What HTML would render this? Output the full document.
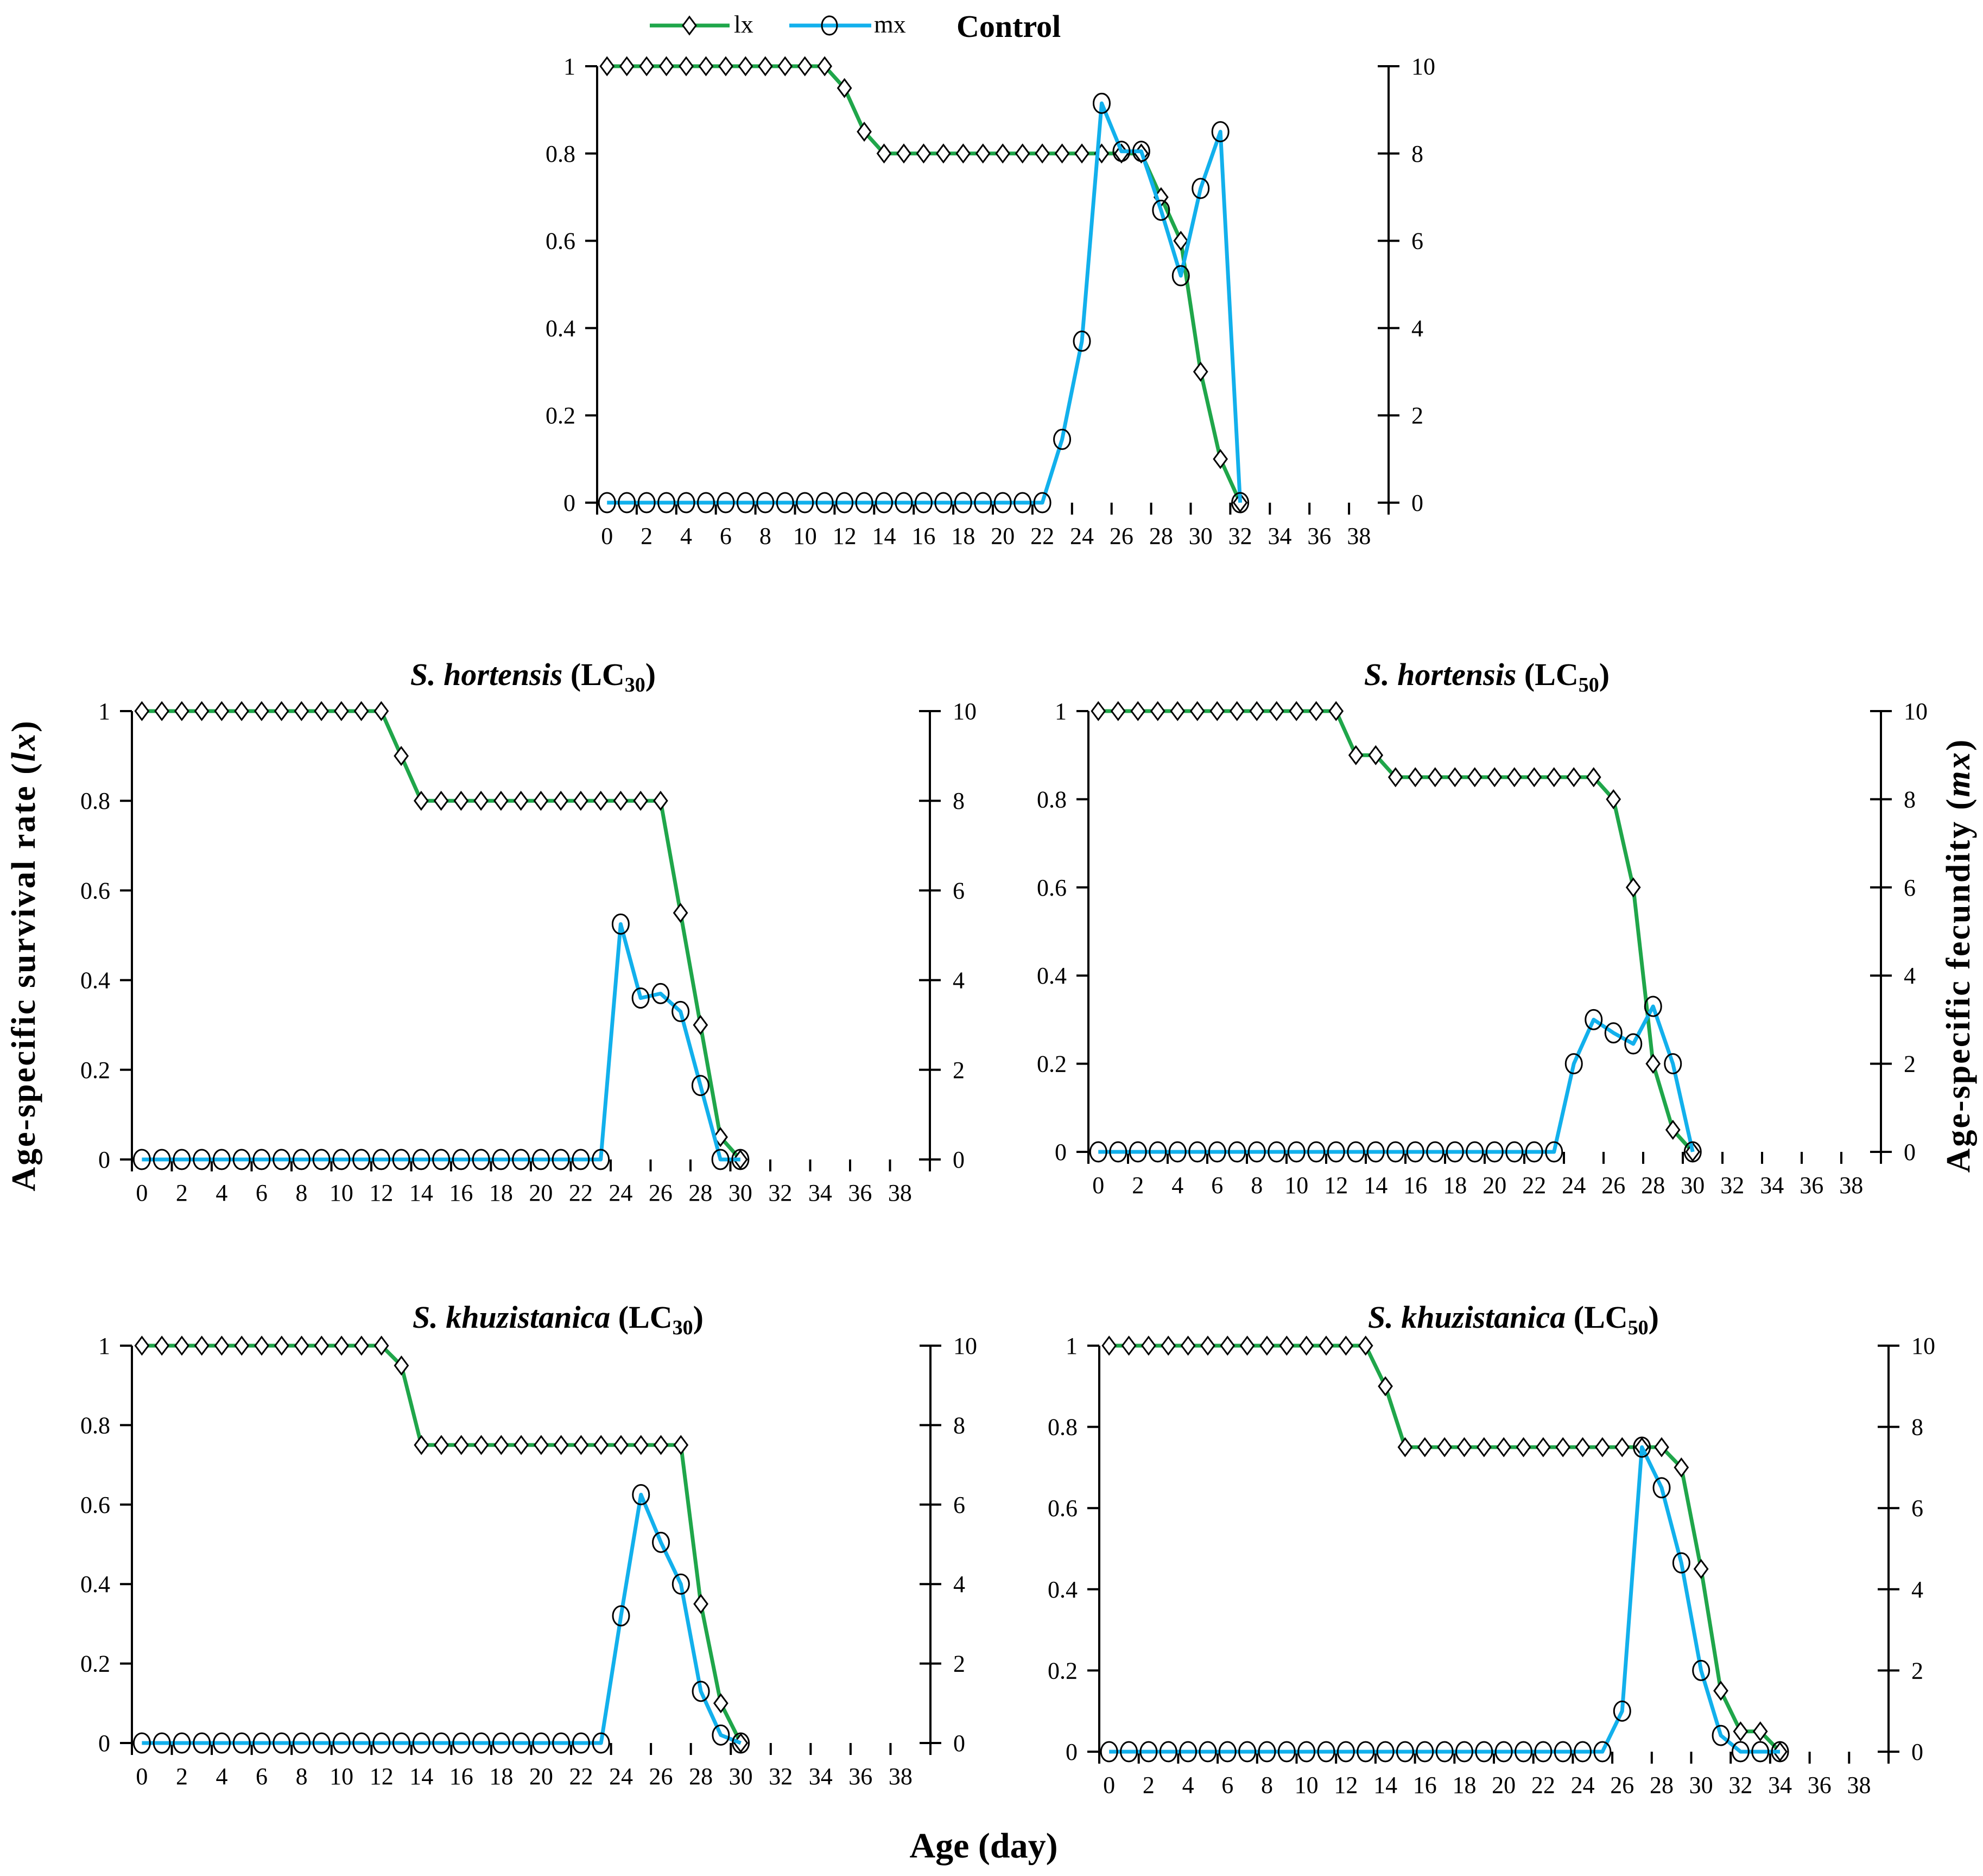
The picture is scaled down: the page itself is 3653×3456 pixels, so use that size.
<!DOCTYPE html>
<html><head><meta charset="utf-8"><style>
html,body{margin:0;padding:0;background:#fff;}
svg{display:block;}
text{font-family:"Liberation Serif",serif;fill:#000;}
</style></head><body>
<svg id="fig" width="3653" height="3456" viewBox="0 0 3653 3456" xmlns="http://www.w3.org/2000/svg">
<g>
<line x1="1197" y1="47" x2="1344" y2="47" stroke="#1fa64a" stroke-width="7"/>
<path d="M1270 31 L1282 47 L1270 63 L1258 47 Z" fill="#fff" stroke="#000" stroke-width="3"/>
<text x="1352" y="60" font-size="46">lx</text>
<line x1="1454" y1="47" x2="1605" y2="47" stroke="#12b0ec" stroke-width="7"/>
<ellipse cx="1528" cy="47" rx="14" ry="17" fill="none" stroke="#000" stroke-width="3"/>
<text x="1610" y="60" font-size="46">mx</text>
</g>
<text x="1762" y="68" font-size="58" font-weight="bold">Control</text>
<text transform="translate(64,1760) rotate(-90)" text-anchor="middle" font-size="62" font-weight="bold" letter-spacing="3">Age-specific  survival  rate  (<tspan font-style="italic">lx</tspan>)</text>
<text transform="translate(3628,1760) rotate(-90)" text-anchor="middle" font-size="62" font-weight="bold" letter-spacing="3">Age-specific  fecundity  (<tspan font-style="italic">mx</tspan>)</text>
<text x="1812" y="3422" text-anchor="middle" font-size="66" font-weight="bold">Age (day)</text>
</svg>
<script>
// Control
const ctrlLx = [1,1,1,1,1,1,1,1,1,1,1,1,0.95,0.85,0.8,0.8,0.8,0.8,0.8,0.8,0.8,0.8,0.8,0.8,0.8,0.8,0.8,0.8,0.7,0.6,0.3,0.1,0];
const ctrlMx = [0,0,0,0,0,0,0,0,0,0,0,0,0,0,0,0,0,0,0,0,0,0,0,1.45,3.7,9.15,8.05,8.05,6.7,5.2,7.2,8.5,0];
// S. hortensis LC30
const h30Lx = [1,1,1,1,1,1,1,1,1,1,1,1,1,0.9,0.8,0.8,0.8,0.8,0.8,0.8,0.8,0.8,0.8,0.8,0.8,0.8,0.8,0.55,0.3,0.05,0];
const h30Mx = [0,0,0,0,0,0,0,0,0,0,0,0,0,0,0,0,0,0,0,0,0,0,0,0,5.25,3.6,3.7,3.3,1.65,0,0];
// S. hortensis LC50
const h50Lx = [1,1,1,1,1,1,1,1,1,1,1,1,1,0.9,0.9,0.85,0.85,0.85,0.85,0.85,0.85,0.85,0.85,0.85,0.85,0.85,0.8,0.6,0.2,0.05,0];
const h50Mx = [0,0,0,0,0,0,0,0,0,0,0,0,0,0,0,0,0,0,0,0,0,0,0,0,2,3,2.7,2.45,3.3,2,0];
// S. khuzistanica LC30
const k30Lx = [1,1,1,1,1,1,1,1,1,1,1,1,1,0.95,0.75,0.75,0.75,0.75,0.75,0.75,0.75,0.75,0.75,0.75,0.75,0.75,0.75,0.75,0.35,0.1,0];
const k30Mx = [0,0,0,0,0,0,0,0,0,0,0,0,0,0,0,0,0,0,0,0,0,0,0,0,3.2,6.25,5.05,4.0,1.3,0.2,0];
// S. khuzistanica LC50
const k50Lx = [1,1,1,1,1,1,1,1,1,1,1,1,1,1,0.9,0.75,0.75,0.75,0.75,0.75,0.75,0.75,0.75,0.75,0.75,0.75,0.75,0.75,0.75,0.7,0.45,0.15,0.05,0.05,0];
const k50Mx = [0,0,0,0,0,0,0,0,0,0,0,0,0,0,0,0,0,0,0,0,0,0,0,0,0,0,1,7.5,6.5,4.65,2,0.4,0,0,0];
const leftTicks = ["0","0.2","0.4","0.6","0.8","1"];
const rightTicks = ["0","2","4","6","8","10"];
const xTickLabels = ["0","2","4","6","8","10","12","14","16","18","20","22","24","26","28","30","32","34","36","38"];

const NS="http://www.w3.org/2000/svg";
const svg=document.getElementById('fig');
function mk(tag,attrs,parent){const e=document.createElementNS(NS,tag);for(const k in attrs)e.setAttribute(k,attrs[k]);parent.appendChild(e);return e;}

const panels=[
 {key:'control',x0:1100,x1:2558,yT:122,yB:926,lx:ctrlLx,mx:ctrlMx,title:null},
 {key:'hortensis-lc30',x0:243,x1:1713,yT:1310,yB:2136,lx:h30Lx,mx:h30Mx,title:['S. hortensis','30'],tx:982,ty:1262},
 {key:'hortensis-lc50',x0:2005,x1:3465,yT:1310,yB:2122,lx:h50Lx,mx:h50Mx,title:['S. hortensis','50'],tx:2739,ty:1262},
 {key:'khuzistanica-lc30',x0:243,x1:1714,yT:2479,yB:3211,lx:k30Lx,mx:k30Mx,title:['S. khuzistanica','30'],tx:1028,ty:2446},
 {key:'khuzistanica-lc50',x0:2025,x1:3479,yT:2479,yB:3227,lx:k50Lx,mx:k50Mx,title:['S. khuzistanica','50'],tx:2788,ty:2446}
];

panels.forEach(p=>{
 const g=mk('g',{},svg);
 
 
 const cw=(p.x1-p.x0)/40;
 const xs=i=>p.x0+(i+0.5)*cw;
 const yl=v=>p.yB-v*(p.yB-p.yT);
 const ym=v=>p.yB-v/10*(p.yB-p.yT);
 const ax=mk('g',{stroke:'#000','stroke-width':4},g);
 
 
 mk('line',{x1:p.x0,y1:p.yT,x2:p.x0,y2:p.yB},ax);
 mk('line',{x1:p.x1,y1:p.yT,x2:p.x1,y2:p.yB+22},ax);
 leftTicks.forEach((t,i)=>{
  const y=yl(i*0.2);
  mk('line',{x1:p.x0-22,y1:y,x2:p.x0,y2:y},ax);
  mk('line',{x1:p.x1-20,y1:y,x2:p.x1+20,y2:y},ax);
  const tl=mk('text',{x:p.x0-40,y:y+15,'text-anchor':'end','font-size':44},g);
  tl.textContent=t;
  
  
  const tr=mk('text',{x:p.x1+42,y:y+15,'text-anchor':'start','font-size':44},g);
  tr.textContent=rightTicks[i];
  
  
 });
 for(let b=0;b<=40;b+=2){const x=p.x0+b*cw;mk('line',{x1:x,y1:p.yB,x2:x,y2:p.yB+22},ax);}
 xTickLabels.forEach((t,i)=>{
  const xt=mk('text',{x:xs(i*2),y:p.yB+76,'text-anchor':'middle','font-size':44},g);
  xt.textContent=t;
  
  
 });
 const lxPts=p.lx.map((v,i)=>xs(i)+','+yl(v)).join(' ');
 const ll=mk('polyline',{points:lxPts,fill:'none',stroke:'#1fa64a','stroke-width':7,'stroke-linejoin':'round'},g);
 
 
 p.lx.forEach((v,i)=>{
  const x=xs(i),y=yl(v);
  const d=mk('path',{d:`M${x} ${y-16}L${x+12} ${y}L${x} ${y+16}L${x-12} ${y}Z`,fill:'#fff',stroke:'#000','stroke-width':3},g);
  
  
 });
 const mxPts=p.mx.map((v,i)=>xs(i)+','+ym(v)).join(' ');
 const ml=mk('polyline',{points:mxPts,fill:'none',stroke:'#12b0ec','stroke-width':7,'stroke-linejoin':'round'},g);
 
 
 p.mx.forEach((v,i)=>{
  const c=mk('ellipse',{cx:xs(i),cy:ym(v),rx:15,ry:18,fill:'none',stroke:'#000','stroke-width':3},g);
  
  
 });
 if(p.title){
  const t=mk('text',{x:p.tx,y:p.ty,'text-anchor':'middle','font-size':58,'font-weight':'bold'},g);
  
  
  const a=mk('tspan',{'font-style':'italic'},t);a.textContent=p.title[0];
  const b=mk('tspan',{},t);b.textContent=' (LC';
  const c=mk('tspan',{'font-size':38,dy:12},t);c.textContent=p.title[1];
  const d=mk('tspan',{dy:-12},t);d.textContent=')';
 }
});
</script>
</body></html>
